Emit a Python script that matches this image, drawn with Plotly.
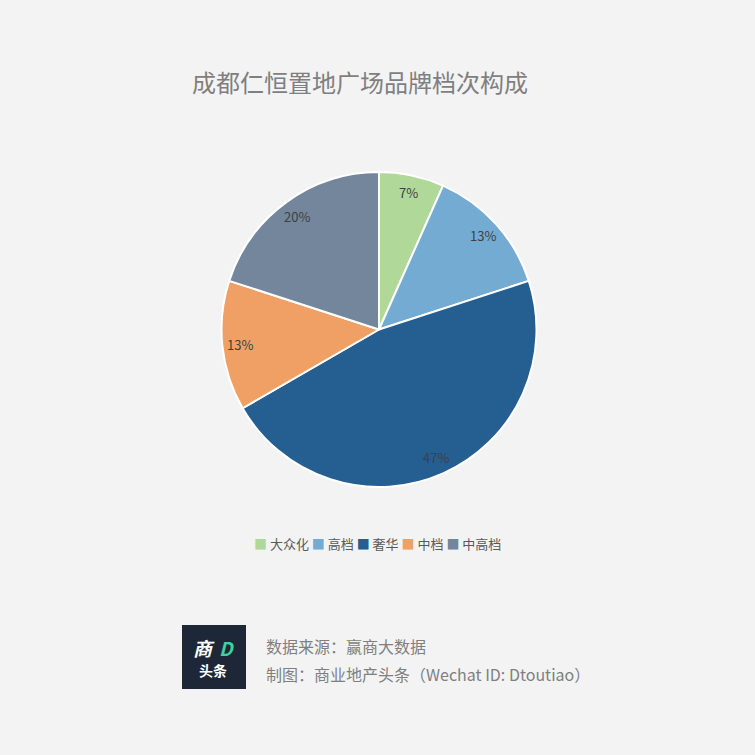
import math
import plotly.graph_objects as go

W = H = 755
categories = ["大众化", "高档", "奢华", "中档", "中高档"]
counts = [1, 2, 7, 2, 3]
colors = ["#b0d898", "#74abd3", "#255e91", "#f0a064", "#73869b"]

title = "成都仁恒置地广场品牌档次构成"
source_line = "数据来源：赢商大数据"
credit_line = "制图：商业地产头条（Wechat ID: Dtoutiao）"

FONT = "Microsoft YaHei, Noto Sans CJK SC, sans-serif"
BG = "#f3f3f3"

def px(x):
    return x / W

def py(y):
    return 1 - y / H

# pie geometry (pixels)
CX, CY, R = 379, 329.5, 157.5

fig = go.Figure()
fig.add_trace(go.Pie(
    labels=categories,
    values=counts,
    sort=False,
    direction="clockwise",
    rotation=0,
    marker=dict(colors=colors, line=dict(color="white", width=2)),
    textinfo="none",
    domain=dict(x=[px(CX - R), px(CX + R)], y=[py(CY + R), py(CY - R)]),
    hoverinfo="label+value+percent",
    showlegend=False,
))

# percentage labels placed at the middle angle of each slice, near the rim
total = sum(counts)
cum = 0
for v in counts:
    mid = (cum + v / 2) / total * 2 * math.pi
    cum += v
    r = 0.89 * R
    lx = CX + r * math.sin(mid)
    ly = CY - r * math.cos(mid)
    fig.add_annotation(xref="paper", yref="paper", x=px(lx), y=py(ly),
                       xanchor="center", yanchor="middle", showarrow=False,
                       text=f"{round(v / total * 100)}%",
                       font=dict(family=FONT, size=13, color="#404040"))

fig.update_layout(
    width=W, height=H,
    margin=dict(l=0, r=0, t=0, b=0),
    paper_bgcolor=BG,
    plot_bgcolor=BG,
    font=dict(family=FONT, color="#595959"),
    showlegend=False,
    title=dict(
        text=title,
        x=px(360), xanchor="center",
        y=py(84), yanchor="middle",
        font=dict(family=FONT, size=24, color="#7f7f7f"),
    ),
)

# compact legend
legend_text = " ".join(
    f"<span style='color:{c}'>■</span> {name}" for name, c in zip(categories, colors)
)
fig.add_annotation(xref="paper", yref="paper", x=px(377), y=py(543),
                   xanchor="center", yanchor="middle", showarrow=False,
                   text=legend_text,
                   font=dict(family=FONT, size=13, color="#595959"))

# footer logo
fig.add_shape(type="rect", xref="paper", yref="paper",
              x0=px(182), x1=px(246), y0=py(689), y1=py(625),
              fillcolor="#1d2737", line=dict(width=0), layer="above")
fig.add_annotation(xref="paper", yref="paper", x=px(204), y=py(647),
                   xanchor="center", yanchor="middle", borderpad=0,
                   text="<b><i>商</i></b>", showarrow=False,
                   font=dict(family=FONT, size=19, color="white"))
fig.add_annotation(xref="paper", yref="paper", x=px(227), y=py(647),
                   xanchor="center", yanchor="middle", borderpad=0,
                   text="<b><i>D</i></b>", showarrow=False,
                   font=dict(family=FONT, size=19, color="#3fd2a0"))
fig.add_annotation(xref="paper", yref="paper", x=px(213), y=py(670),
                   xanchor="center", yanchor="middle", borderpad=0,
                   text="<b>头条</b>", showarrow=False,
                   font=dict(family=FONT, size=14, color="white"))

fig.add_annotation(xref="paper", yref="paper", x=px(264), y=py(646),
                   xanchor="left", yanchor="middle",
                   text=source_line, showarrow=False,
                   font=dict(family=FONT, size=16, color="#7f7f7f"))
fig.add_annotation(xref="paper", yref="paper", x=px(264), y=py(674),
                   xanchor="left", yanchor="middle",
                   text=credit_line, showarrow=False,
                   font=dict(family=FONT, size=16, color="#7f7f7f"))

fig.write_html("out.html",
               config={"displayModeBar": False},
               post_script="document.body.style.margin='0';document.body.style.background='#f3f3f3';")
